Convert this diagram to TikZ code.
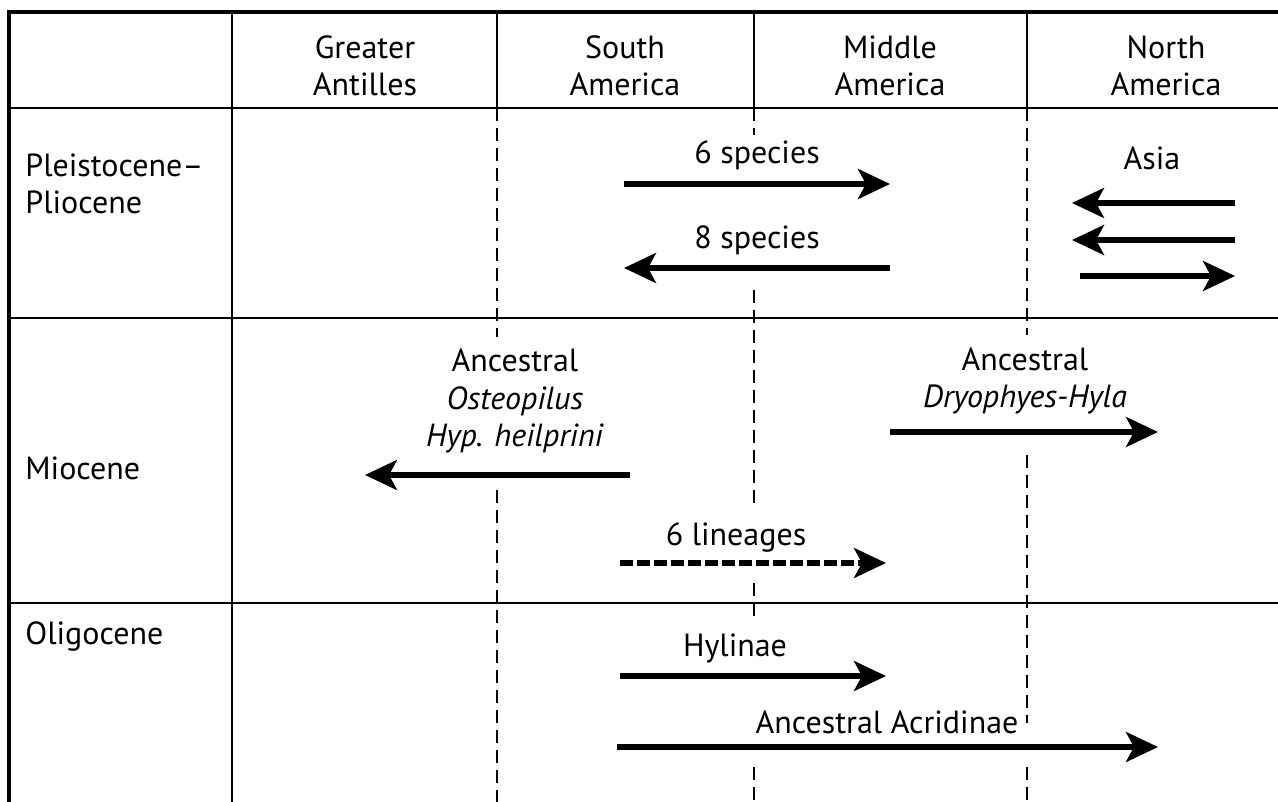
\documentclass[tikz,border=0pt]{standalone}
\usepackage{fontspec}
\setmainfont{PT Sans}
\usepackage{tikz}
\usetikzlibrary{arrows.meta}
\tikzstyle{lbl} = [font=\fontsize{16}{18.75}\selectfont, inner sep=0pt]
\tikzstyle{mig} = [-{Stealth[length=16pt,width=15pt,inset=4pt]}, line width=2.6pt]
\tikzstyle{zone} = [line width=0.7pt, dash pattern=on 6.5pt off 3.5pt]
\begin{document}
\begin{tikzpicture}[x=0.5pt,y=-0.5pt]
\useasboundingbox (0,0) rectangle (1278,802);

% Draw table frame and column lines

    \draw[line width=2pt] (9,802) -- (9,12) -- (1278,12);
    \draw[line width=1.4pt] (9,108) -- (1278,108);
    \draw[line width=1pt] (9,318) -- (1278,318);
    \draw[line width=1pt] (9,603) -- (1278,603);
    \draw[line width=0.8pt] (232,12) -- (232,802);
    \foreach \cx in {497,754,1027}
        \draw[line width=0.8pt] (\cx,12) -- (\cx,108);
    \draw[zone] (497,108) -- (497,337);
    \draw[zone] (497,490) -- (497,802);
    \draw[zone] (754,108) -- (754,135);
    \draw[zone] (754,290) -- (754,507);
    \draw[zone] (754,583) -- (754,620);
    \draw[zone] (754,767) -- (754,802);
    \draw[zone] (1027,108) -- (1027,335);
    \draw[zone] (1027,455) -- (1027,723);
    \draw[zone] (1027,767) -- (1027,802);

% Headers and epochs

    \node[lbl, align=center] at (365,66) (antilles) {Greater\\Antilles};
    \node[lbl, align=center] at (625,66) (samerica) {South\\America};
    \node[lbl, align=center] at (890,66) (mamerica) {Middle\\America};
    \node[lbl, align=center] at (1166,66) (namerica) {North\\America};
    \node[lbl, align=left, anchor=west] at (25,184) (pleisto) {Pleistocene--\\Pliocene};
    \node[lbl, anchor=base west] at (25,479) (mio) {Miocene};
    \node[lbl, anchor=base west] at (25,644) (oligo) {Oligocene};

% Migrations

    \node[lbl, anchor=base] at (757,164) (sixsp) {6 species};
    \coordinate (sixa) at (624,184);
    \coordinate (sixb) at (890,184);
    \draw[mig] (sixa) -- (sixb);
    \node[lbl, anchor=base] at (757,249) (eightsp) {8 species};
    \coordinate (eighta) at (890,268);
    \coordinate (eightb) at (624,268);
    \draw[mig] (eighta) -- (eightb);
    \node[lbl, anchor=base] at (1152,170) (asia) {Asia};
    \coordinate (asiaa) at (1235,203);
    \coordinate (asiab) at (1072,203);
    \coordinate (asiac) at (1235,240);
    \coordinate (asiad) at (1072,240);
    \coordinate (asiae) at (1080,276);
    \coordinate (asiaf) at (1235,276);
    \draw[mig] (asiaa) -- (asiab);
    \draw[mig] (asiac) -- (asiad);
    \draw[mig] (asiae) -- (asiaf);

    \node[lbl, align=center] at (515,401) (osteo) {Ancestral\\\textit{Osteopilus}\\\textit{Hyp. heilprini}};
    \coordinate (osteoa) at (630,475);
    \coordinate (osteob) at (365,475);
    \draw[mig] (osteoa) -- (osteob);
    \node[lbl, align=center] at (1025,381) (dryo) {Ancestral\\\textit{Dryophyes-Hyla}};
    \coordinate (dryoa) at (890,432);
    \coordinate (dryob) at (1158,432);
    \draw[mig] (dryoa) -- (dryob);
    \node[lbl, anchor=base] at (736,545) (lineages) {6 lineages};
    \coordinate (lina) at (620,563);
    \coordinate (linb) at (886,563);
    \draw[mig, dash pattern=on 6.5pt off 2pt] (lina) -- (linb);

    \node[lbl, anchor=base] at (735,656) (hylinae) {Hylinae};
    \coordinate (hyla) at (620,676);
    \coordinate (hylb) at (886,676);
    \draw[mig] (hyla) -- (hylb);
    \node[lbl, anchor=base] at (887,733) (acrid) {Ancestral Acridinae};
    \coordinate (acra) at (617,747);
    \coordinate (acrb) at (1158,747);
    \draw[mig] (acra) -- (acrb);

\end{tikzpicture}
\end{document}
